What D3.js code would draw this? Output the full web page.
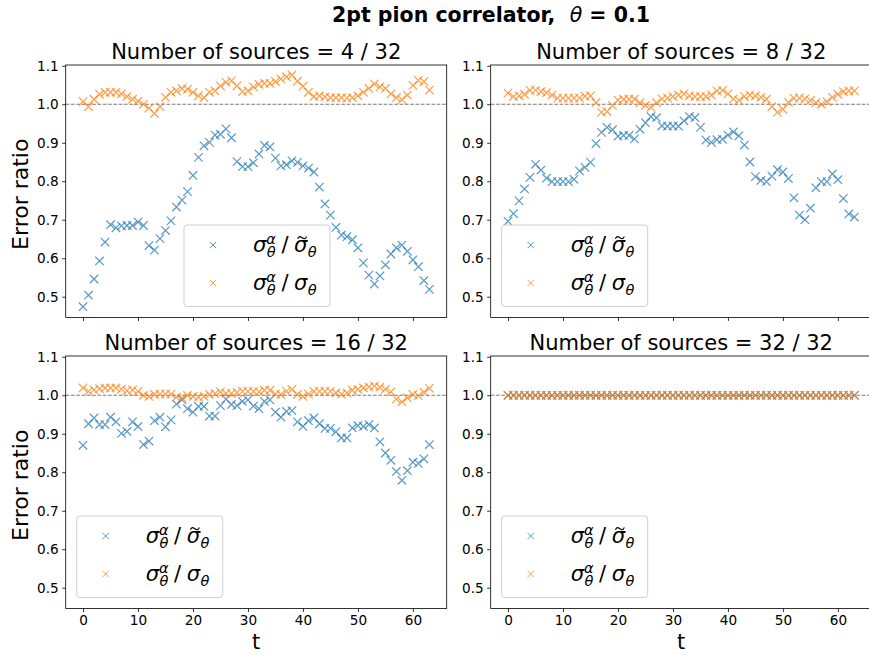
<!DOCTYPE html>
<html>
<head>
<meta charset="utf-8">
<script src="https://cdn.jsdelivr.net/npm/d3@7"></script>
<style>
  html, body { margin: 0; padding: 0; background: #fff; }
  svg { display: block; font-family: "DejaVu Sans", sans-serif; }
</style>
</head>
<body>
<svg id="chart" width="869" height="655"></svg>
<script>
// ---------------- data ----------------
const tValues = [0,1,2,3,4,5,6,7,8,9,10,11,12,13,14,15,16,17,18,19,20,21,22,23,24,25,26,27,28,29,30,31,
  32,33,34,35,36,37,38,39,40,41,42,43,44,45,46,47,48,49,50,51,52,53,54,55,56,57,58,59,60,61,62,63];

const panelTitles = ["Number of sources = 4 / 32", "Number of sources = 8 / 32",
                     "Number of sources = 16 / 32", "Number of sources = 32 / 32"];

// sigma^alpha / sigma-tilde (blue)
const blue4 = [0.474,0.504,0.546,0.593,0.642,0.687,0.679,0.684,0.685,0.685,
  0.694,0.685,0.633,0.621,0.651,0.672,0.697,0.733,0.751,0.773,
  0.815,0.862,0.892,0.901,0.920,0.922,0.936,0.913,0.851,0.838,
  0.838,0.848,0.871,0.893,0.889,0.860,0.840,0.843,0.853,0.849,
  0.840,0.834,0.824,0.785,0.741,0.712,0.680,0.660,0.656,0.648,
  0.627,0.588,0.556,0.533,0.554,0.583,0.611,0.627,0.634,0.618,
  0.596,0.578,0.542,0.519];
const blue8 = [0.696,0.716,0.749,0.780,0.810,0.844,0.829,0.808,0.799,0.799,
  0.799,0.799,0.805,0.827,0.836,0.849,0.898,0.927,0.940,0.934,
  0.917,0.919,0.919,0.910,0.935,0.952,0.968,0.965,0.944,0.943,
  0.943,0.943,0.957,0.968,0.965,0.940,0.907,0.901,0.908,0.909,
  0.920,0.928,0.918,0.894,0.850,0.812,0.802,0.799,0.813,0.830,
  0.824,0.807,0.757,0.712,0.700,0.730,0.783,0.799,0.799,0.819,
  0.804,0.755,0.715,0.707];
const blue16 = [0.870,0.926,0.941,0.924,0.924,0.943,0.931,0.901,0.906,0.931,
  0.919,0.872,0.881,0.934,0.943,0.918,0.936,0.977,0.988,0.965,
  0.956,0.971,0.971,0.946,0.946,0.973,0.990,0.976,0.973,0.984,
  0.988,0.972,0.965,0.984,0.988,0.956,0.943,0.958,0.960,0.931,
  0.919,0.934,0.941,0.926,0.914,0.914,0.905,0.889,0.889,0.915,
  0.921,0.919,0.924,0.915,0.879,0.850,0.831,0.802,0.779,0.804,
  0.826,0.823,0.835,0.872];
const blue32 = [1,1,1,1,1,1,1,1,1,1, 1,1,1,1,1,1,1,1,1,1, 1,1,1,1,1,1,1,1,1,1,
  1,1,1,1,1,1,1,1,1,1, 1,1,1,1,1,1,1,1,1,1, 1,1,1,1,1,1,1,1,1,1, 1,1,1,1];

// sigma^alpha / sigma (orange)
const orange4 = [1.007,0.994,1.013,1.026,1.031,1.031,1.031,1.027,1.020,1.013,
  1.008,1.000,0.990,0.976,0.994,1.018,1.031,1.035,1.041,1.039,
  1.031,1.022,1.017,1.031,1.035,1.048,1.057,1.061,1.048,1.033,
  1.035,1.045,1.052,1.054,1.054,1.059,1.066,1.071,1.076,1.060,
  1.047,1.031,1.020,1.022,1.019,1.017,1.017,1.017,1.016,1.017,
  1.022,1.031,1.041,1.053,1.045,1.041,1.027,1.017,1.012,1.024,
  1.049,1.062,1.059,1.037];
const orange8 = [1.029,1.020,1.022,1.026,1.036,1.036,1.033,1.030,1.024,1.016,
  1.016,1.016,1.016,1.016,1.021,1.022,1.004,0.979,0.981,0.997,
  1.011,1.013,1.013,1.013,1.004,0.997,0.992,1.004,1.014,1.016,
  1.020,1.024,1.027,1.022,1.020,1.020,1.020,1.024,1.035,1.036,
  1.027,1.014,1.010,1.020,1.024,1.022,1.018,1.013,0.994,0.979,
  0.987,1.005,1.016,1.016,1.014,1.010,1.004,1.000,1.007,1.018,
  1.026,1.033,1.035,1.035];
const orange16 = [1.019,1.010,1.014,1.017,1.019,1.019,1.019,1.016,1.012,1.014,
  1.010,1.000,0.997,1.002,1.003,1.003,1.003,0.995,0.993,1.000,
  0.997,0.995,0.997,1.002,1.004,1.009,1.005,1.005,1.007,1.010,
  1.010,1.010,1.009,1.013,1.013,1.003,1.002,1.010,1.015,1.002,
  0.997,1.003,1.010,1.010,1.010,1.010,1.006,1.003,1.006,1.013,
  1.015,1.019,1.022,1.024,1.021,1.016,1.009,0.990,0.983,0.993,
  1.002,0.999,1.008,1.018];
const orange32 = [1,1,1,1,1,1,1,1,1,1, 1,1,1,1,1,1,1,1,1,1, 1,1,1,1,1,1,1,1,1,1,
  1,1,1,1,1,1,1,1,1,1, 1,1,1,1,1,1,1,1,1,1, 1,1,1,1,1,1,1,1,1,1, 1,1,1,1];

const blueSeries = [blue4, blue8, blue16, blue32];
const orangeSeries = [orange4, orange8, orange16, orange32];
const yTicks = [0.5, 0.6, 0.7, 0.8, 0.9, 1.0, 1.1];
const xTicks = [0, 10, 20, 30, 40, 50, 60];

// ---------------- layout ----------------
const svg = d3.select("#chart");
const W = 381, H = 252.5;
const colX = [65.7, 490.7];
const rowY = [65, 356];
const BLUE = "#1f77b4", ORANGE = "#ff7f0e";
const legendPos = [[118.3, 160], [11, 160], [11, 160], [11, 160]]; // offset of legend box in panel

// suptitle
const sup = svg.append("text")
  .attr("x", 491).attr("y", 21.5)
  .attr("text-anchor", "middle")
  .attr("font-size", 20.5).attr("font-weight", "bold")
  .attr("fill", "#000");
sup.append("tspan").text("2pt pion correlator,\u00a0 ");
sup.append("tspan").attr("font-style", "italic").attr("font-weight", "normal").text("θ");
sup.append("tspan").text(" = 0.1");

const xMark = d3.symbol().type(d3.symbolX).size(48);

function measure(txt, size, italic) {
  const t = svg.append("text").attr("font-size", size)
    .attr("font-style", italic ? "italic" : "normal").text(txt);
  const w = t.node().getComputedTextLength();
  t.remove();
  return w;
}
const FS = 21, SFS = 14.5;
const wSig = measure("σ", FS, true);
const wAl = measure("α", SFS, true);
const wTh = measure("θ", SFS, true);
const wSl = measure("/", FS, false);
const GAP = 5.5;

function drawMath(g, x, y, tilde) {
  const t = g.append("text").attr("x", x).attr("y", y)
    .attr("font-size", FS).attr("font-style", "italic").attr("fill", "#000");
  t.append("tspan").text("σ");
  t.append("tspan").attr("font-size", SFS).attr("dy", -8).text("α");
  t.append("tspan").attr("font-size", SFS).attr("dx", -wAl + 0.5).attr("dy", 13).text("θ");
  const sub = Math.max(wAl, wTh + 0.5) - (wTh + 0.5);
  t.append("tspan").attr("font-style", "normal").attr("dx", sub + GAP).attr("dy", -5).text("/");
  t.append("tspan").attr("dx", GAP).text("σ");
  t.append("tspan").attr("font-size", SFS).attr("dx", 0.5).attr("dy", 5).text("θ");
  if (tilde) {
    const xs = x + wSig + Math.max(wAl, wTh + 0.5) + GAP + wSl + GAP;
    const cx = xs + wSig / 2 + 1.5, cy = y - 14.5;
    g.append("path")
      .attr("d", `M${cx - 4.5},${cy + 1.2} C${cx - 2.5},${cy - 2.2} ${cx - 1},${cy - 0.5} ${cx},${cy + 0.2} S${cx + 3},${cy + 2.5} ${cx + 4.5},${cy - 1}`)
      .attr("fill", "none").attr("stroke", "#000").attr("stroke-width", 1.1);
  }
}

for (let p = 0; p < 4; p++) {
  const col = p % 2, row = Math.floor(p / 2);
  const x0 = colX[col], y0 = rowY[row];
  const g = svg.append("g").attr("transform", `translate(${x0},${y0})`);

  const x = d3.scaleLinear().domain([-3.15, 66.15]).range([0, W]);
  const y = d3.scaleLinear().domain([0.446, 1.102]).range([H, 0]);

  // reference line
  g.append("line")
    .attr("x1", 0).attr("x2", W)
    .attr("y1", y(1.0)).attr("y2", y(1.0))
    .attr("stroke", "#7a7a7a").attr("stroke-width", 1)
    .attr("stroke-dasharray", "3.7,1.6");

  // points
  const pts = (vals, color) => {
    g.append("g").selectAll("path").data(vals).join("path")
      .attr("d", xMark)
      .attr("transform", (d, i) => `translate(${x(tValues[i])},${y(d)})`)
      .attr("fill", "none").attr("stroke", color)
      .attr("stroke-width", 1.2).attr("opacity", 0.75);
  };
  pts(blueSeries[p], BLUE);
  pts(orangeSeries[p], ORANGE);

  // axes
  const yAxis = d3.axisLeft(y).tickValues(yTicks).tickFormat(d3.format(".1f"))
    .tickSizeInner(3.5).tickSizeOuter(0).tickPadding(3.5);
  const ya = g.append("g").call(yAxis);
  const xAxis = d3.axisBottom(x).tickValues(xTicks)
    .tickFormat(row === 1 ? d3.format("d") : () => "")
    .tickSizeInner(3.5).tickSizeOuter(0).tickPadding(3.5);
  const xa = g.append("g").attr("transform", `translate(0,${H})`).call(xAxis);
  [ya, xa].forEach(a => {
    a.select(".domain").remove();
    a.selectAll("line").attr("stroke", "#000").attr("stroke-width", 0.8);
    a.selectAll("text").attr("font-size", 13.6).attr("fill", "#000")
      .attr("font-family", "DejaVu Sans");
  });

  // frame
  g.append("rect").attr("x", 0).attr("y", 0).attr("width", W).attr("height", H)
    .attr("fill", "none").attr("stroke", "#000").attr("stroke-width", 0.8);

  // panel title
  g.append("text").attr("x", W / 2).attr("y", -6)
    .attr("text-anchor", "middle").attr("font-size", 21).attr("fill", "#000")
    .text(panelTitles[p]);

  // labels
  if (col === 0) {
    svg.append("text")
      .attr("transform", `translate(27.5,${y0 + H / 2 + 3}) rotate(-90)`)
      .attr("text-anchor", "middle").attr("font-size", 22).attr("fill", "#000")
      .text("Error ratio");
  }
  if (row === 1) {
    g.append("text").attr("x", W / 2).attr("y", H + 40)
      .attr("text-anchor", "middle").attr("font-size", 21).attr("fill", "#000")
      .text("t");
  }

  // legend
  const [lx, ly] = legendPos[p];
  const lg = g.append("g").attr("transform", `translate(${lx},${ly})`);
  lg.append("rect").attr("x", 0).attr("y", 0).attr("width", 146).attr("height", 81.5)
    .attr("rx", 3).attr("fill", "#fff").attr("fill-opacity", 0.8)
    .attr("stroke", "#d0d0d0").attr("stroke-width", 1);
  [[BLUE, true, 20], [ORANGE, false, 58]].forEach(([c, tl, yy]) => {
    lg.append("path").attr("d", d3.symbol().type(d3.symbolX).size(28))
      .attr("transform", `translate(29,${yy})`)
      .attr("fill", "none").attr("stroke", c).attr("stroke-width", 1).attr("opacity", 0.75);
    drawMath(lg, 69, yy + 7, tl);
  });
}
</script>
</body>
</html>
